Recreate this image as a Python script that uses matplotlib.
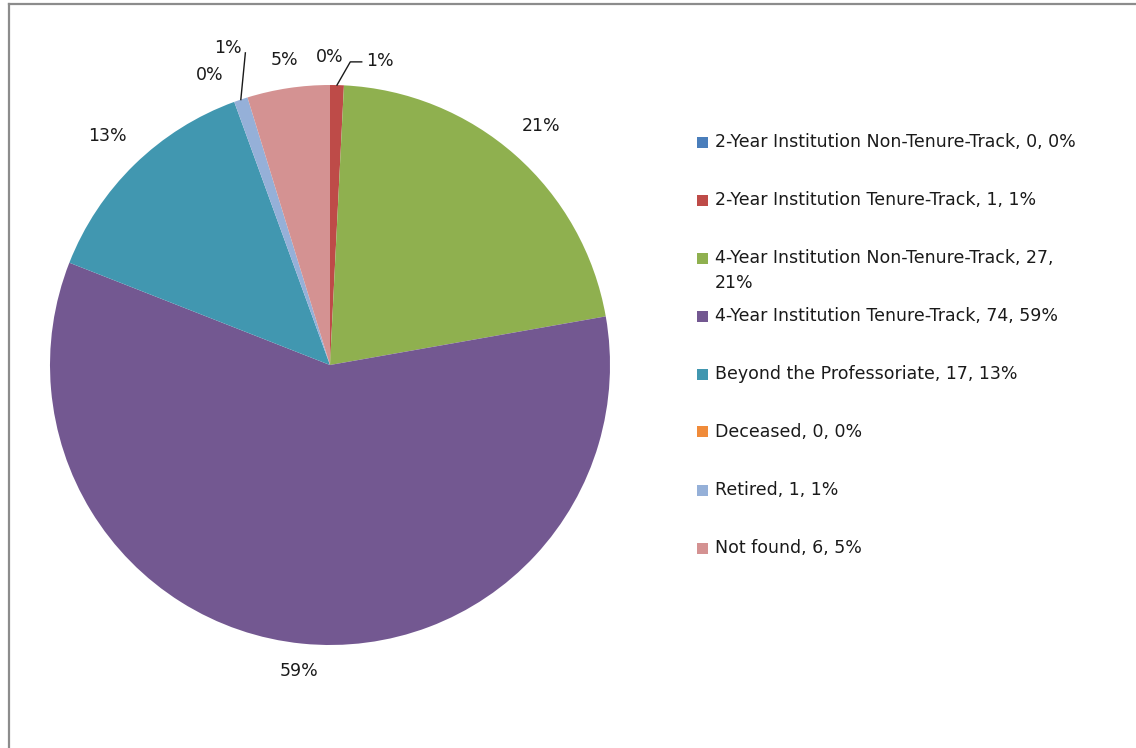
import numpy as np
import matplotlib
matplotlib.use('Agg')
from matplotlib import pyplot as plt
from matplotlib.lines import Line2D
from matplotlib.patches import Rectangle

categories = ['2-Year Institution Non-Tenure-Track',
              '2-Year Institution Tenure-Track',
              '4-Year Institution Non-Tenure-Track',
              '4-Year Institution Tenure-Track',
              'Beyond the Professoriate',
              'Deceased',
              'Retired',
              'Not found']
counts = [0, 1, 27, 74, 17, 0, 1, 6]
colors = ['#4A7EBB', '#BE4B48', '#8FB04F', '#735891',
          '#4197B0', '#F08B3A', '#95B0D8', '#D49292']

# where each percentage label sits (radius factor, angle offset in degrees)
label_r = [1.10, 1.10, 1.14, 1.10, 1.14, 1.12, 1.19, 1.10]
label_dang = [0, -7.9, 0, 0, 0, 2.5, -0.8, 0]
# leader lines: index -> (radius of end, angle offset of end, horizontal tail)
leaders = {1: (1.085, -2.4, True), 6: (1.155, -3.4, False)}

W, H = 1136, 748
fig = plt.figure(figsize=(W / 100, H / 100), dpi=100)
fig.patch.set_facecolor('white')

def fx(x):
    return x / W

def fy(y):
    return 1 - y / H

# chart frame
fig.add_artist(Line2D([fx(9), fx(9)], [fy(4), 0], color='#8c8c8c', lw=1.6))
fig.add_artist(Line2D([fx(9), 1], [fy(4), fy(4)], color='#8c8c8c', lw=1.6))

cx, cy, R = 330, 365, 280
ax = fig.add_axes([fx(cx - R), fy(cy + R), 2 * R / W, 2 * R / H])

wedges, _ = ax.pie(counts, colors=colors, startangle=90, counterclock=False,
                   radius=1, wedgeprops=dict(linewidth=0))
ax.set_xlim(-1, 1)
ax.set_ylim(-1, 1)
ax.axis('off')

total = float(sum(counts))
font = dict(family='DejaVu Sans', size=12.5, color='#1a1a1a')
for i, w in enumerate(wedges):
    mid = (w.theta1 + w.theta2) / 2.0
    ang = np.deg2rad(mid + label_dang[i])
    lx, ly = label_r[i] * np.cos(ang), label_r[i] * np.sin(ang)
    pct = '%d%%' % int(round(counts[i] / total * 100))
    ax.text(lx, ly, pct, ha='center', va='center', clip_on=False, **font)
    if i in leaders:
        er, eda, tail = leaders[i]
        a0 = np.deg2rad(mid)
        a1 = np.deg2rad(mid + eda)
        xs = [np.cos(a0), er * np.cos(a1)]
        ys = [np.sin(a0), er * np.sin(a1)]
        if tail:
            xs.append(lx - 0.065)
            ys.append(ys[-1])
        ax.plot(xs, ys, color='#1a1a1a', lw=1.0, clip_on=False)

# legend drawn by hand to match the wrapped entry
legend_labels = ['%s, %d, %d%%' % (c, v, int(round(v / total * 100)))
                 for c, v in zip(categories, counts)]
legend_labels[2] = legend_labels[2].replace('27, ', '27,\n')
x_sq, x_txt, y0, step, sq = 697, 715, 142, 58, 11
for i, lab in enumerate(legend_labels):
    yc = y0 + i * step
    fig.add_artist(Rectangle((fx(x_sq), fy(yc + sq / 2)), sq / W, sq / H,
                             facecolor=colors[i], edgecolor='none'))
    fig.text(fx(x_txt), fy(yc - 9), lab, ha='left', va='top',
             linespacing=1.5, **font)

fig.savefig('out.png', dpi=100, facecolor='white')
